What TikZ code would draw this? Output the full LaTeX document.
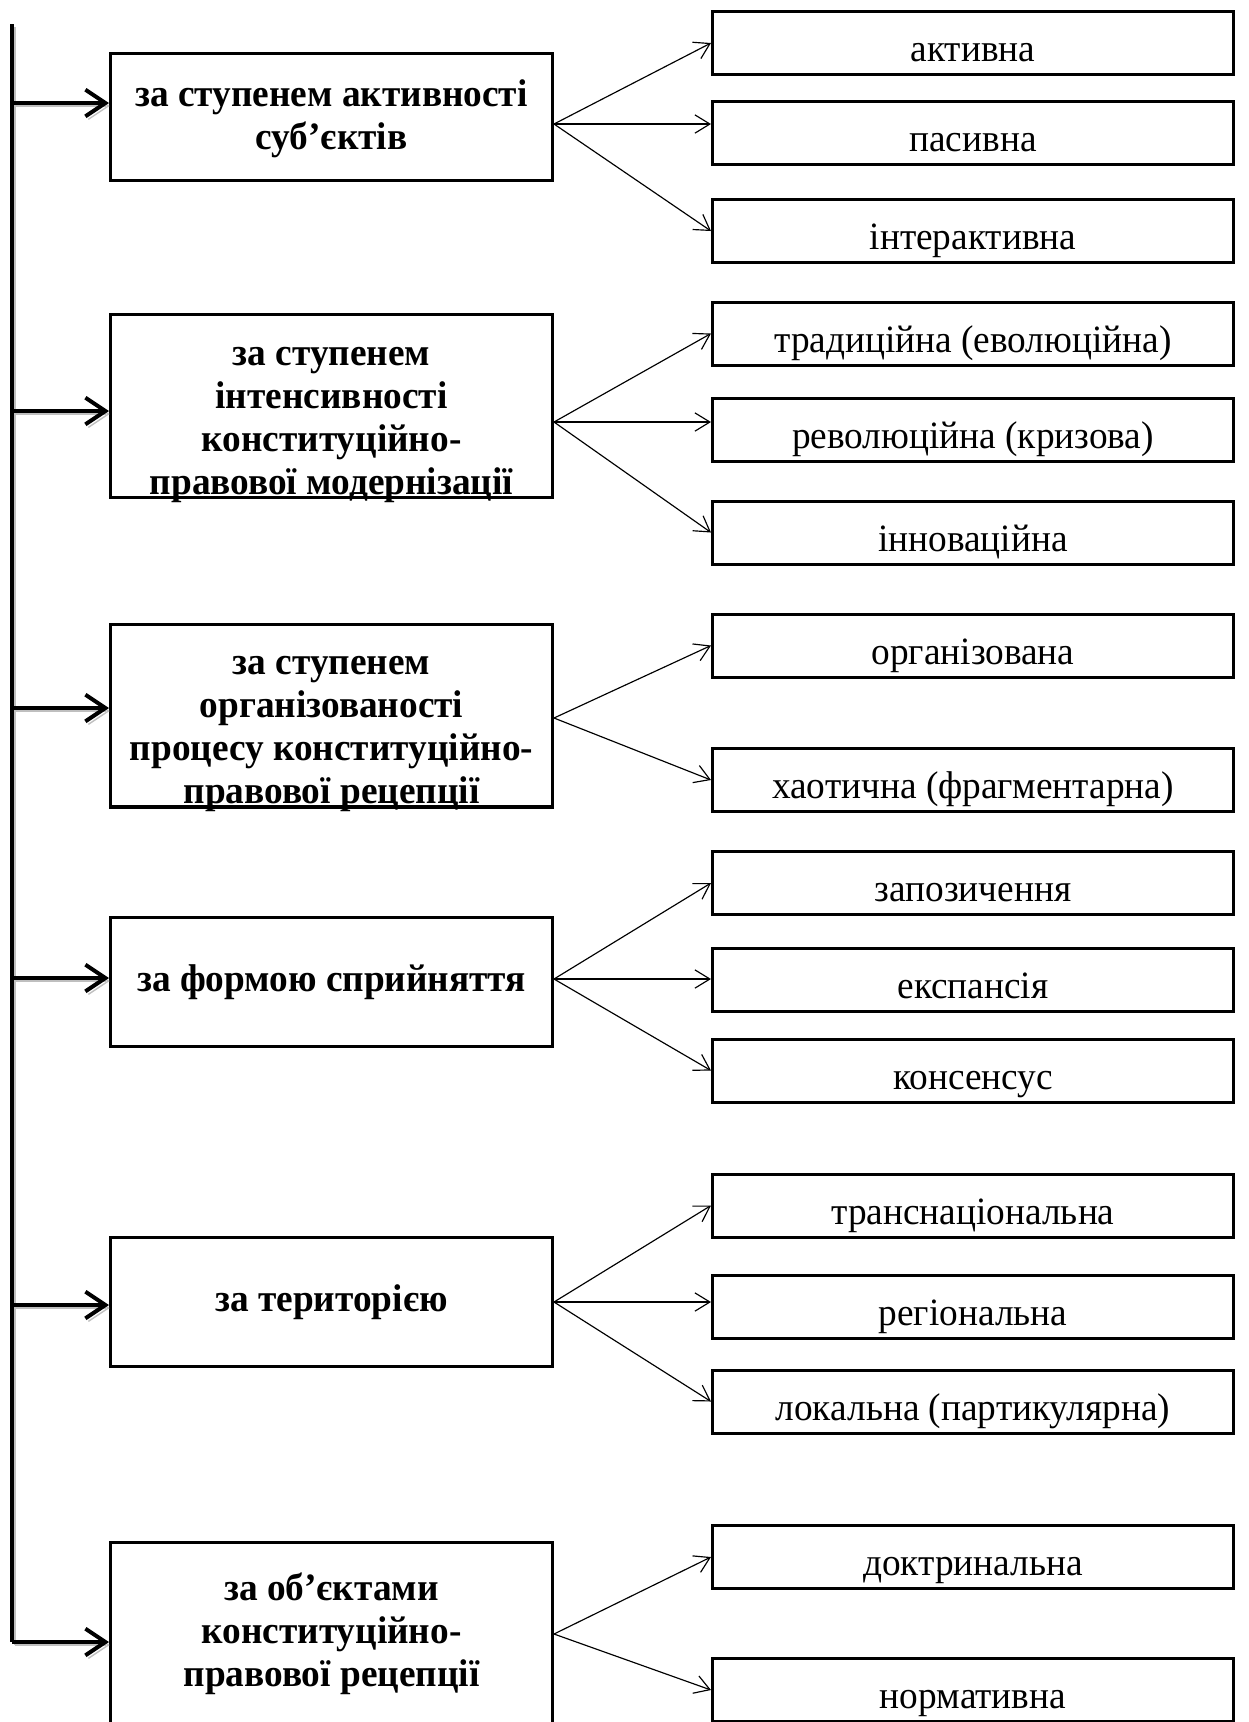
\documentclass[tikz,border=0pt]{standalone}
\usepackage{fontspec}
\setmainfont{Liberation Serif}[FakeStretch=0.965]
\usetikzlibrary{arrows.meta, positioning, calc}

\begin{document}
\begin{tikzpicture}[x=0.3pt, y=-0.3pt,
  crit/.style={draw, line width=1pt, minimum width=132.5pt, inner sep=0pt},
  critlabel/.style={align=center, inner sep=0pt, font=\fontsize{11.6}{12.9}\selectfont\bfseries},
  kind/.style={draw, line width=0.9pt, minimum width=156.3pt, inner xsep=0pt, inner ysep=0pt,
    text height=15.1pt, text depth=3.8pt, font=\fontsize{11.6}{12.9}\selectfont},
  feed/.style={line width=1.2pt, -{Straight Barb[length=6pt, width=8pt, line width=1.2pt]},
    preaction={draw=black!25, transform canvas={shift={(0.9pt,-0.9pt)}}}},
  fan/.style={line width=0.35pt, -{Straight Barb[length=4.5pt, width=5.5pt]}}]

  \useasboundingbox[fill=white] (0,0) rectangle (1248,1722);

  % Criteria (left column)
  \node[crit, minimum height=38pt] (b1) at (331.5, 117) {};
  \node[crit, minimum height=54.8pt] (b2) at (331.5, 406) {};
  \node[crit, minimum height=54.8pt] (b3) at (331.5, 715.5) {};
  \node[crit, minimum height=38.6pt] (b4) at (331.5, 982) {};
  \node[crit, minimum height=38.6pt] (b5) at (331.5, 1302) {};
  \node[crit, minimum height=54.8pt] (b6) at (331.5, 1634) {};

  \node[critlabel] (t1) at ([yshift=-0.6pt]b1.center) {за ступенем активності\\суб’єктів};
  \begin{scope}
    \clip ([yshift=-1.6pt]b2.south west) rectangle (b2.north east);
    \node[critlabel] (t2) at ([yshift=-5.7pt]b2.center) {за ступенем\\інтенсивності\\конституційно-\\правової модернізації};
  \end{scope}
  \begin{scope}
    \clip ([yshift=-1.6pt]b3.south west) rectangle (b3.north east);
    \node[critlabel] (t3) at ([yshift=-5.5pt]b3.center) {за ступенем\\організованості\\процесу конституційно-\\правової рецепції};
  \end{scope}
  \node[critlabel] (t4) at (b4) {за формою сприйняття};
  \node[critlabel] (t5) at (b5) {за територією};
  \node[critlabel] (t6) at (b6) {за об’єктами\\конституційно-\\правової рецепції};

  % Kinds (right column)
  \node[kind] (r11) at (973, 43) {активна};
  \node[kind] (r12) at (973, 132.5) {пасивна};
  \node[kind] (r13) at (973, 231) {інтерактивна};
  \node[kind] (r21) at (973, 333.5) {традиційна (еволюційна)};
  \node[kind] (r22) at (973, 430) {революційна (кризова)};
  \node[kind] (r23) at (973, 532.5) {інноваційна};
  \node[kind] (r31) at (973, 645.5) {організована};
  \node[kind] (r32) at (973, 780) {хаотична (фрагментарна)};
  \node[kind] (r41) at (973, 883) {запозичення};
  \node[kind] (r42) at (973, 980) {експансія};
  \node[kind] (r43) at (973, 1070.5) {консенсус};
  \node[kind] (r51) at (973, 1205.5) {транснаціональна};
  \node[kind] (r52) at (973, 1306.5) {регіональна};
  \node[kind] (r53) at (973, 1401.5) {локальна (партикулярна)};
  \node[kind] (r61) at (973, 1557) {доктринальна};
  \node[kind] (r62) at (973, 1690) {нормативна};

  % Spine with arrows into the criteria
  \coordinate (top) at (12, 24);
  \coordinate (s1) at (12, 103);
  \coordinate (s2) at (12, 411);
  \coordinate (s3) at (12, 708);
  \coordinate (s4) at (12, 978);
  \coordinate (s5) at (12, 1305);
  \coordinate (s6) at (12, 1642);

  \draw[line width=1.2pt, preaction={draw=black!25, transform canvas={shift={(0.9pt,-0.9pt)}}}] (top) -- (s6);
  \foreach \i in {1,...,6}
    \draw[feed] (s\i) -- (s\i -| b\i.west);

  % Fans from the criteria to the kinds
  \coordinate (o1) at ([yshift=-2.1pt]b1.east);
  \coordinate (o2) at ([yshift=-4.8pt]b2.east);
  \coordinate (o3) at ([yshift=-0.75pt]b3.east);
  \coordinate (o4) at ([yshift=0.9pt]b4.east);
  \coordinate (o5) at (b5.east);
  \coordinate (o6) at (b6.east);

  \foreach \i in {1,2,4,5} {
    \draw[fan] (o\i) -- (r\i1.west);
    \draw[fan] (o\i) -- (o\i -| r\i2.west);
    \draw[fan] (o\i) -- (r\i3.west);
  }
  \foreach \i in {3,6} {
    \draw[fan] (o\i) -- (r\i1.west);
    \draw[fan] (o\i) -- (r\i2.west);
  }
\end{tikzpicture}
\end{document}
